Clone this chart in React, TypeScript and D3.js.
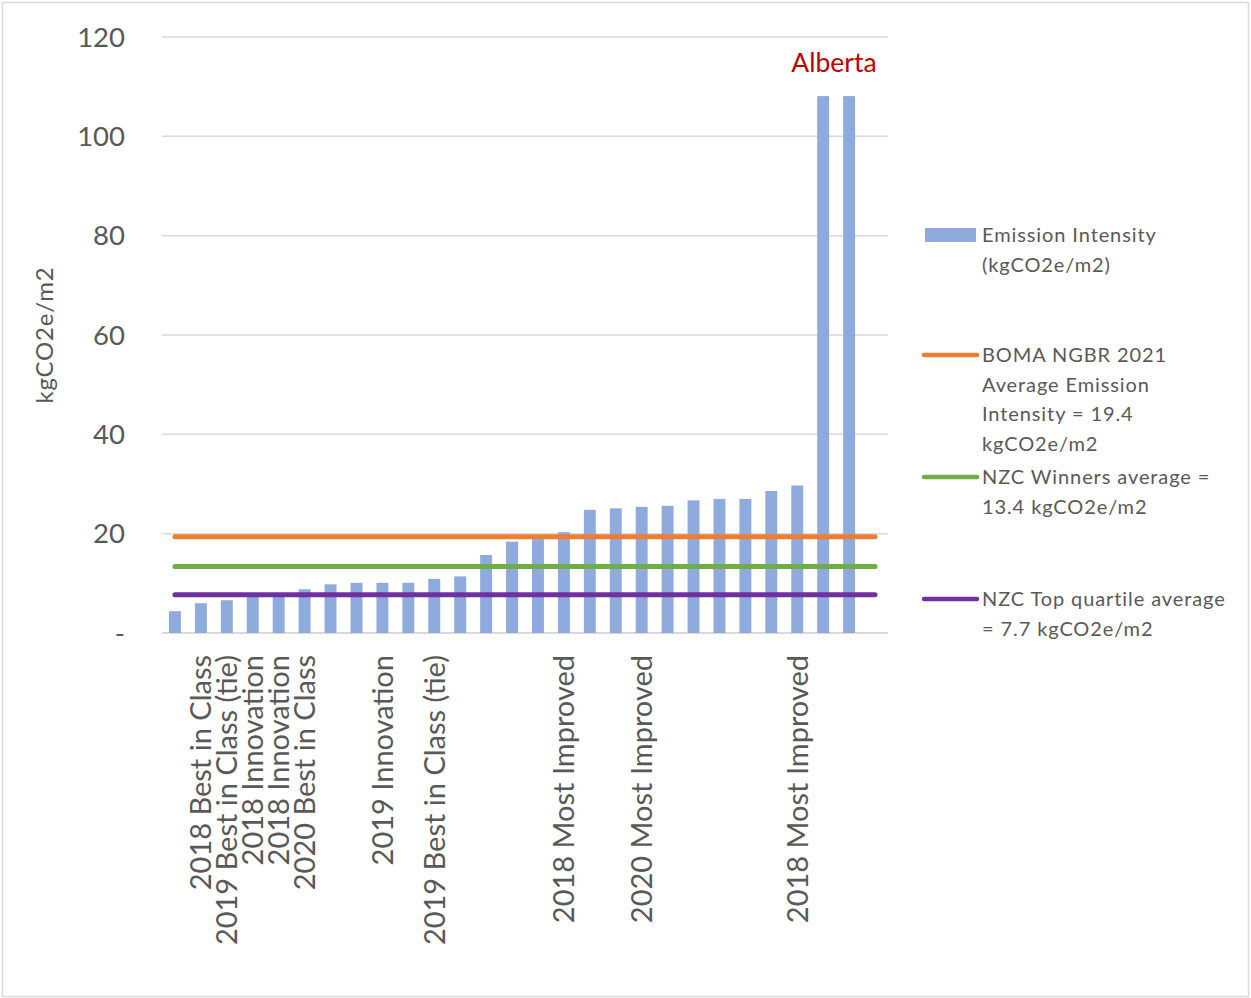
import React from 'react';
import * as d3 from 'd3';

// category labels (most ticks are unlabeled in the source chart)
const categories: string[] = [
  '', '2018 Best in Class', '2019 Best in Class (tie)', '2018 Innovation', '2018 Innovation',
  '2020 Best in Class', '', '', '2019 Innovation', '', '2019 Best in Class (tie)', '', '', '', '',
  '2018 Most Improved', '', '', '2020 Most Improved', '', '', '', '', '', '2018 Most Improved',
  '', '', '',
];

// Emission Intensity (kgCO2e/m2), last category is empty
const emissionValues: (number | null)[] = [
  4.4, 6.0, 6.6, 7.5, 7.5, 8.8, 9.8, 10.1, 10.1, 10.1, 10.9, 11.4, 15.7, 18.4,
  18.9, 20.3, 24.8, 25.1, 25.4, 25.6, 26.7, 27.0, 27.0, 28.6, 29.7, 108.1, 108.1, null,
];

const bomaAverage = 19.4;
const nzcWinnersAverage = 13.4;
const nzcTopQuartile = 7.7;

const yTicks = [0, 20, 40, 60, 80, 100, 120];

const legendItems = [
  { kind: 'bar', color: '#8FAADC', lines: ['Emission Intensity', '(kgCO2e/m2)'] },
  { kind: 'line', color: '#ED7D31', lines: ['BOMA NGBR 2021', 'Average Emission', 'Intensity = 19.4', 'kgCO2e/m2'] },
  { kind: 'line', color: '#70AD47', lines: ['NZC Winners average =', '13.4 kgCO2e/m2'] },
  { kind: 'line', color: '#7030A0', lines: ['NZC Top quartile average', '= 7.7 kgCO2e/m2'] },
];
const legendTops = [235, 355, 477, 599];

const FONT = 'Lato, "Open Sans", sans-serif';
const TEXT = '#595959';
const GRID = '#d9d9d9';

export default function App() {
  const width = 1251;
  const height = 998;
  const plot = { left: 162, right: 888, top: 37, bottom: 633 };

  const step = (plot.right - plot.left) / categories.length;
  const x = d3
    .scaleBand<number>()
    .domain(d3.range(categories.length))
    .range([plot.left, plot.right]);
  const center = (i: number) => (x(i) as number) + x.bandwidth() / 2;
  const barW = step * 0.46;

  const y = d3.scaleLinear().domain([0, 120]).range([plot.bottom, plot.top]);

  const refLines = [
    { value: bomaAverage, color: '#ED7D31' },
    { value: nzcWinnersAverage, color: '#70AD47' },
    { value: nzcTopQuartile, color: '#7030A0' },
  ];

  return (
    <svg
      width={width}
      height={height}
      style={{ position: 'absolute', left: 0, top: 0, background: '#fff' }}
      fontFamily={FONT}
    >
      <rect x={2.5} y={2.5} width={width - 5} height={height - 4} fill="#fff" stroke={GRID} strokeWidth={1.5} />

      {/* gridlines */}
      {yTicks.map((t) => (
        <line key={t} x1={plot.left} x2={plot.right} y1={y(t)} y2={y(t)} stroke={GRID} strokeWidth={t === 0 ? 2 : 1.5} />
      ))}

      {/* y tick labels */}
      {yTicks.map((t) => (
        <text key={'l' + t} x={125} y={y(t)} dy="0.35em" textAnchor="end" fontSize={27.5} fill={TEXT}>
          {t === 0 ? '-' : t}
        </text>
      ))}

      <text
        transform={`translate(53,${(plot.top + plot.bottom) / 2}) rotate(-90)`}
        textAnchor="middle"
        fontSize={24}
        letterSpacing={0.8}
        fill={TEXT}
      >
        kgCO2e/m2
      </text>

      {/* bars */}
      {emissionValues.map((v, i) =>
        v == null ? null : (
          <rect key={i} x={center(i) - barW / 2} y={y(v)} width={barW} height={y(0) - y(v)} fill="#8FAADC" />
        )
      )}

      {/* reference lines */}
      {refLines.map((r) => (
        <line
          key={r.color}
          x1={center(0)}
          x2={center(categories.length - 1)}
          y1={y(r.value)}
          y2={y(r.value)}
          stroke={r.color}
          strokeWidth={5}
          strokeLinecap="round"
        />
      ))}

      {/* category labels */}
      {categories.map((c, i) =>
        c ? (
          <text
            key={'c' + i}
            transform={`translate(${center(i)},655) rotate(-90)`}
            dy="0.36em"
            textAnchor="end"
            fontSize={29}
            fill={TEXT}
          >
            {c}
          </text>
        ) : null
      )}

      <text x={834} y={72} textAnchor="middle" fontSize={26.5} fill="#C00000">
        Alberta
      </text>

      {/* legend */}
      {legendItems.map((item, k) => {
        const top = legendTops[k];
        return (
          <g key={k}>
            {item.kind === 'bar' ? (
              <rect x={925} y={top - 7} width={51} height={14} fill={item.color} />
            ) : (
              <line x1={924} x2={977} y1={top} y2={top} stroke={item.color} strokeWidth={4.5} strokeLinecap="round" />
            )}
            {item.lines.map((ln, j) => (
              <text key={j} x={982} y={top + j * 29.7} dy="0.35em" fontSize={20} letterSpacing={0.9} fill={TEXT}>
                {ln}
              </text>
            ))}
          </g>
        );
      })}
    </svg>
  );
}
